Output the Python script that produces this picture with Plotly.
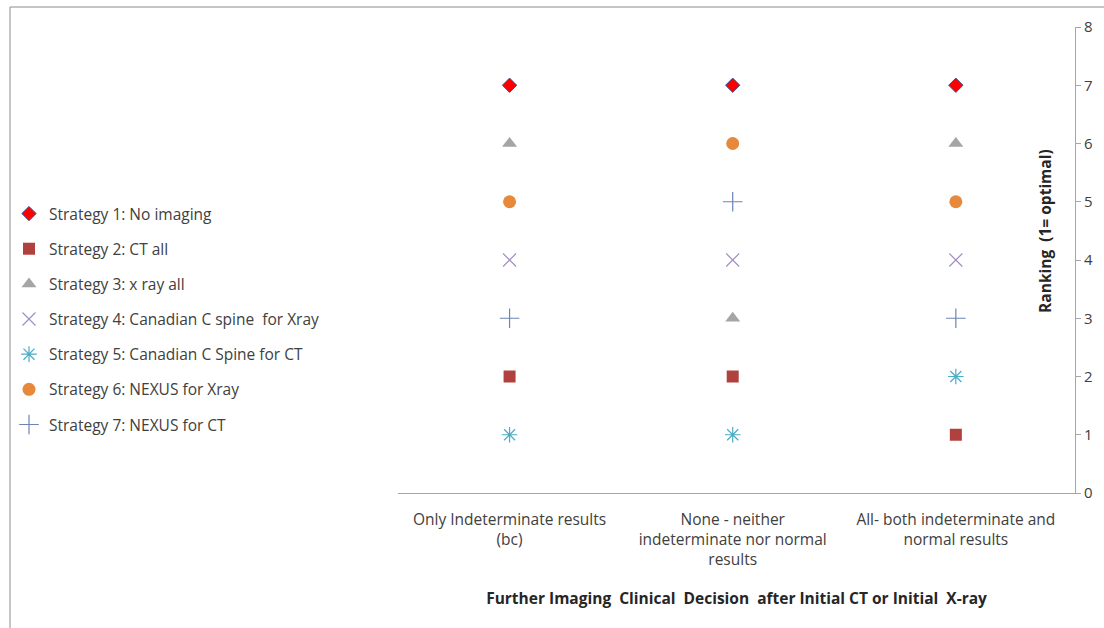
import plotly.graph_objects as go

# Datos
categories = [
    "Only Indeterminate results<br>(bc)",
    "None - neither<br>indeterminate nor normal<br>results",
    "All- both indeterminate and<br>normal results",
]
strategy_names = [
    "Strategy 1: No imaging",
    "Strategy 2: CT all",
    "Strategy 3: x ray all",
    "Strategy 4: Canadian C spine  for Xray",
    "Strategy 5: Canadian C Spine for CT",
    "Strategy 6: NEXUS for Xray",
    "Strategy 7: NEXUS for CT",
]
s1_no_imaging = [7, 7, 7]
s2_ct_all = [2, 2, 1]
s3_xray_all = [6, 3, 6]
s4_canadian_xray = [4, 4, 4]
s5_canadian_ct = [1, 1, 2]
s6_nexus_xray = [5, 6, 5]
s7_nexus_ct = [3, 5, 3]
y_ticks = [0, 1, 2, 3, 4, 5, 6, 7, 8]

series = [s1_no_imaging, s2_ct_all, s3_xray_all, s4_canadian_xray,
          s5_canadian_ct, s6_nexus_xray, s7_nexus_ct]

# Estilo de marcadores (tipo Excel)
markers = [
    dict(symbol="diamond", size=11, color="#FF0000", line=dict(color="#2E5597", width=1)),
    dict(symbol="square", size=12, color="#B0413E"),
    dict(symbol="triangle-up", size=13, color="#A5A5A5"),
    dict(symbol="x-thin-open", size=13, color="#A18EC4", line=dict(color="#A18EC4", width=1.2)),
    dict(symbol="asterisk-open", size=13, color="#4BACC6", line=dict(color="#4BACC6", width=1.2)),
    dict(symbol="circle", size=13, color="#E8883A"),
    dict(symbol="cross-thin-open", size=14, color="#6C85B5", line=dict(color="#6C85B5", width=1.2)),
]

fig = go.Figure()
for i, (name, vals) in enumerate(zip(strategy_names, series)):
    fig.add_trace(go.Scatter(
        x=[0, 1, 2], y=vals, mode="markers", name=name,
        legendgroup=f"g{i}", marker=markers[i],
    ))

# Geometría en píxeles
W, H = 1104, 628
L, R, T, B = 398, 29, 27, 135
pw = W - L - R
ph = H - T - B

def px_x(p):
    return (p - L) / pw

def px_y(p):
    return 1 - (p - T) / ph

fig.update_layout(
    width=W, height=H,
    margin=dict(l=L, r=R, t=T, b=B, autoexpand=False),
    plot_bgcolor="white", paper_bgcolor="white",
    font=dict(family="Open Sans, Liberation Sans, sans-serif", size=16, color="#404040"),
    showlegend=True,
    legend=dict(
        x=px_x(9), y=px_y(197), xanchor="left", yanchor="top",
        tracegroupgap=12, itemwidth=30, font=dict(size=15.5, color="#404040"),
        bgcolor="rgba(0,0,0,0)",
    ),
)

fig.update_xaxes(
    tickmode="array", tickvals=[0, 1, 2], ticktext=categories,
    range=[-0.5, 2.534], showgrid=False, zeroline=False,
    showline=True, linecolor="#A6A6A6", linewidth=1, ticks="",
    ticklabelstandoff=12,
    tickfont=dict(size=15.5, color="#404040"),
    title=dict(text="<b>Further Imaging  Clinical  Decision  after Initial CT or Initial  X-ray</b>",
               font=dict(size=15.5, color="#262626"), standoff=24),
)
fig.update_yaxes(
    side="right", range=[0, 8], tickvals=y_ticks,
    showgrid=False, zeroline=False, showline=True,
    linecolor="#A6A6A6", linewidth=1, ticks="outside", ticklen=5,
    tickcolor="#A6A6A6", tickfont=dict(size=15, color="#404040"),
)

fig.add_annotation(
    text="<b>Ranking  (1= optimal)</b>", textangle=-90,
    xref="paper", yref="y", x=px_x(1045), y=4.5,
    xanchor="center", yanchor="middle",
    showarrow=False, font=dict(size=15.5, color="#262626"),
)

# Borde exterior del gráfico
fig.add_shape(type="line", xref="paper", yref="paper",
              x0=px_x(10), x1=px_x(1110), y0=px_y(7), y1=px_y(7),
              line=dict(color="#8C8C8C", width=1))
fig.add_shape(type="line", xref="paper", yref="paper",
              x0=px_x(10), x1=px_x(10), y0=px_y(7), y1=px_y(640),
              line=dict(color="#8C8C8C", width=1))

fig.write_html("out.html", config={"displayModeBar": False},
               post_script="document.body.style.margin='0';")
